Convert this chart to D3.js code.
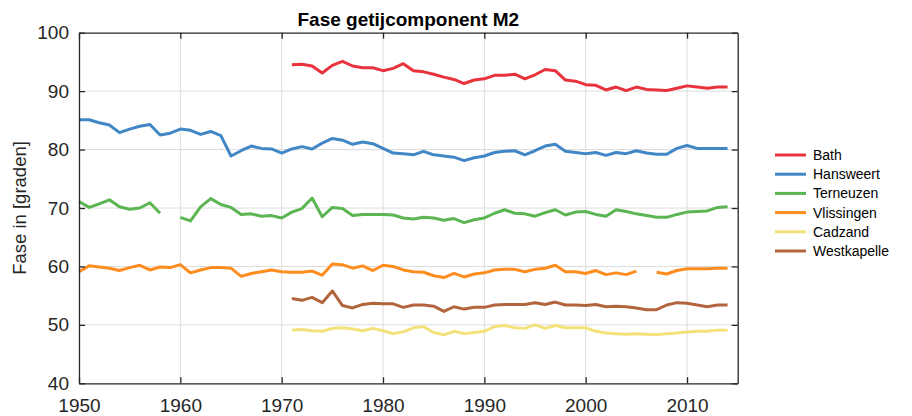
<!DOCTYPE html>
<html>
<head>
<meta charset="utf-8">
<script src="https://cdn.jsdelivr.net/npm/d3@7"></script>
<style>
  body { margin: 0; background: #fff; }
  svg text { font-family: "Liberation Sans", Arial, sans-serif; }
</style>
</head>
<body>
<svg id="chart" width="912" height="416"></svg>
<script>
// years of the long series (1950-2014) and the short ones (1971-2014)
const yearsLong = d3.range(1950, 2015);
const yearsShort = d3.range(1971, 2015);

const bath = [94.5, 94.6, 94.3, 93.1, 94.4, 95.1, 94.3, 94.0, 94.0, 93.5,
  93.9, 94.7, 93.5, 93.3, 92.9, 92.4, 92.0, 91.3, 91.9, 92.1,
  92.7, 92.7, 92.9, 92.1, 92.8, 93.7, 93.5, 91.9, 91.7, 91.1,
  91.0, 90.2, 90.7, 90.1, 90.7, 90.3, 90.2, 90.1, 90.5, 90.9,
  90.7, 90.5, 90.7, 90.7];

const hansweert = [85.1, 85.1, 84.6, 84.2, 82.9, 83.5, 84.0, 84.3, 82.5, 82.8,
  83.5, 83.3, 82.6, 83.1, 82.4, 78.9, 79.8, 80.6, 80.2, 80.1,
  79.4, 80.1, 80.5, 80.1, 81.1, 81.9, 81.6, 80.9, 81.3, 81.0,
  80.2, 79.4, 79.3, 79.1, 79.7, 79.1, 78.9, 78.7, 78.1, 78.6,
  78.9, 79.5, 79.7, 79.8, 79.1, 79.8, 80.6, 80.9, 79.7, 79.5,
  79.3, 79.5, 79.0, 79.5, 79.3, 79.8, 79.4, 79.2, 79.2, 80.2,
  80.7, 80.2, 80.2, 80.2, 80.2];

const terneuzen = [71.1, 70.1, 70.7, 71.4, 70.2, 69.8, 70.0, 70.9, 69.1, null,
  68.4, 67.8, 70.2, 71.6, 70.6, 70.1, 68.9, 69.0, 68.6, 68.7,
  68.3, 69.3, 69.9, 71.7, 68.5, 70.1, 69.9, 68.7, 68.9, 68.9,
  68.9, 68.8, 68.3, 68.1, 68.4, 68.3, 67.9, 68.2, 67.5, 68.0,
  68.3, 69.1, 69.7, 69.1, 69.0, 68.6, 69.2, 69.7, 68.8, 69.3,
  69.4, 68.9, 68.6, 69.7, 69.4, 69.0, 68.7, 68.4, 68.4, 68.9,
  69.3, 69.4, 69.5, 70.1, 70.2];

const vlissingen = [59.1, 60.1, 59.9, 59.7, 59.3, 59.8, 60.2, 59.4, 59.9, 59.8,
  60.3, 58.9, 59.4, 59.8, 59.8, 59.7, 58.3, 58.8, 59.1, 59.4,
  59.1, 59.0, 59.0, 59.2, 58.5, 60.4, 60.3, 59.7, 60.1, 59.3,
  60.2, 60.0, 59.4, 59.1, 59.0, 58.4, 58.1, 58.8, 58.2, 58.7,
  58.9, 59.4, 59.5, 59.5, 59.1, 59.5, 59.7, 60.2, 59.1, 59.1,
  58.8, 59.3, 58.6, 58.9, 58.6, 59.2, null, 59.0, 58.7, 59.3,
  59.6, 59.6, 59.6, 59.7, 59.7];

const cadzand = [49.1, 49.2, 49.0, 48.9, 49.4, 49.5, 49.3, 49.0, 49.4, 49.0,
  48.5, 48.8, 49.5, 49.7, 48.7, 48.3, 48.9, 48.5, 48.7, 48.9,
  49.7, 49.9, 49.5, 49.4, 50.0, 49.4, 49.9, 49.5, 49.5, 49.5,
  48.9, 48.6, 48.5, 48.4, 48.5, 48.4, 48.3, 48.5, 48.6, 48.8,
  48.9, 48.9, 49.1, 49.1];

const westkapelle = [54.5, 54.2, 54.7, 53.8, 55.8, 53.3, 52.9, 53.5, 53.7, 53.6,
  53.6, 53.0, 53.4, 53.4, 53.2, 52.3, 53.1, 52.7, 53.0, 53.0,
  53.4, 53.5, 53.5, 53.5, 53.8, 53.5, 53.9, 53.4, 53.4, 53.3,
  53.5, 53.1, 53.2, 53.1, 52.9, 52.6, 52.6, 53.4, 53.8, 53.7,
  53.4, 53.1, 53.4, 53.4];

const xTicks = [1950, 1960, 1970, 1980, 1990, 2000, 2010];
const yTicks = [40, 50, 60, 70, 80, 90, 100];

const series = [
  { name: "Bath", years: yearsShort, values: bath, color: "#e8323c" },
  { name: "Hansweert", years: yearsLong, values: hansweert, color: "#4187c6" },
  { name: "Terneuzen", years: yearsLong, values: terneuzen, color: "#5ab552" },
  { name: "Vlissingen", years: yearsLong, values: vlissingen, color: "#ff8c1e" },
  { name: "Cadzand", years: yearsShort, values: cadzand, color: "#f3e27a" },
  { name: "Westkapelle", years: yearsShort, values: westkapelle, color: "#b2653c" }
];

const marginLeft = 79, marginRight = 737.7, marginTop = 32.7, marginBottom = 383.3;
const axisColor = "#262626";

const svg = d3.select("#chart");

const x = d3.scaleLinear().domain([1950, 2015]).range([marginLeft, marginRight]);
const y = d3.scaleLinear().domain([40, 100]).range([marginBottom, marginTop]);

// grid
svg.append("g")
  .selectAll("line.vg")
  .data(xTicks.slice(1))
  .enter().append("line")
  .attr("x1", d => x(d)).attr("x2", d => x(d))
  .attr("y1", marginTop).attr("y2", marginBottom)
  .attr("stroke", "#dcdcdc").attr("stroke-width", 1);

svg.append("g")
  .selectAll("line.hg")
  .data(yTicks.slice(1, -1))
  .enter().append("line")
  .attr("x1", marginLeft).attr("x2", marginRight)
  .attr("y1", d => y(d)).attr("y2", d => y(d))
  .attr("stroke", "#dcdcdc").attr("stroke-width", 1);

// lines
const line = d3.line()
  .defined(d => d.v != null)
  .x(d => x(d.year))
  .y(d => y(d.v));

series.forEach(s => {
  svg.append("path")
    .datum(s.years.map((yr, i) => ({ year: yr, v: s.values[i] })))
    .attr("fill", "none")
    .attr("stroke", s.color)
    .attr("stroke-width", 3)
    .attr("stroke-linejoin", "round")
    .attr("d", line);
});

// axes, MATLAB-style ticks pointing inward
const tickLen = 6;
const bottomAxis = svg.append("g")
  .attr("transform", `translate(0,${marginBottom})`)
  .call(d3.axisBottom(x).tickValues(xTicks).tickFormat(d3.format("d")).tickSizeInner(-tickLen).tickSizeOuter(0).tickPadding(14));
const leftAxis = svg.append("g")
  .attr("transform", `translate(${marginLeft},0)`)
  .call(d3.axisLeft(y).tickValues(yTicks).tickSizeInner(-tickLen).tickSizeOuter(0).tickPadding(10));
const topAxis = svg.append("g")
  .attr("transform", `translate(0,${marginTop})`)
  .call(d3.axisTop(x).tickValues(xTicks).tickFormat("").tickSizeInner(-tickLen).tickSizeOuter(0));
const rightAxis = svg.append("g")
  .attr("transform", `translate(${marginRight},0)`)
  .call(d3.axisRight(y).tickValues(yTicks).tickFormat("").tickSizeInner(-tickLen).tickSizeOuter(0));

[bottomAxis, leftAxis, topAxis, rightAxis].forEach(a => {
  a.select(".domain").attr("stroke", axisColor).attr("stroke-width", 1.3);
  a.selectAll(".tick line").attr("stroke", axisColor).attr("stroke-width", 1.3);
  a.selectAll(".tick text")
    .style("fill", axisColor)
    .style("font-size", "19px");
});
bottomAxis.selectAll(".tick text").attr("dy", "0.75em");

// title
svg.append("text")
  .attr("x", (marginLeft + marginRight) / 2)
  .attr("y", 26)
  .attr("text-anchor", "middle")
  .style("font-size", "19px")
  .style("font-weight", "bold")
  .style("fill", "#000")
  .text("Fase getijcomponent M2");

// y label
svg.append("text")
  .attr("transform", `translate(26,${(marginTop + marginBottom) / 2}) rotate(-90)`)
  .attr("text-anchor", "middle")
  .style("font-size", "18.5px")
  .style("fill", axisColor)
  .text("Fase in [graden]");

// legend
const legend = svg.append("g").attr("transform", "translate(775,155)");
series.forEach((s, i) => {
  const g = legend.append("g").attr("transform", `translate(0,${i * 19.2})`);
  g.append("line")
    .attr("x1", 0).attr("x2", 31)
    .attr("y1", 0).attr("y2", 0)
    .attr("stroke", s.color)
    .attr("stroke-width", 3);
  g.append("text")
    .attr("x", 38)
    .attr("y", 0)
    .attr("dy", "0.35em")
    .style("font-size", "14px")
    .style("fill", "#000")
    .text(s.name);
});
</script>
</body>
</html>
